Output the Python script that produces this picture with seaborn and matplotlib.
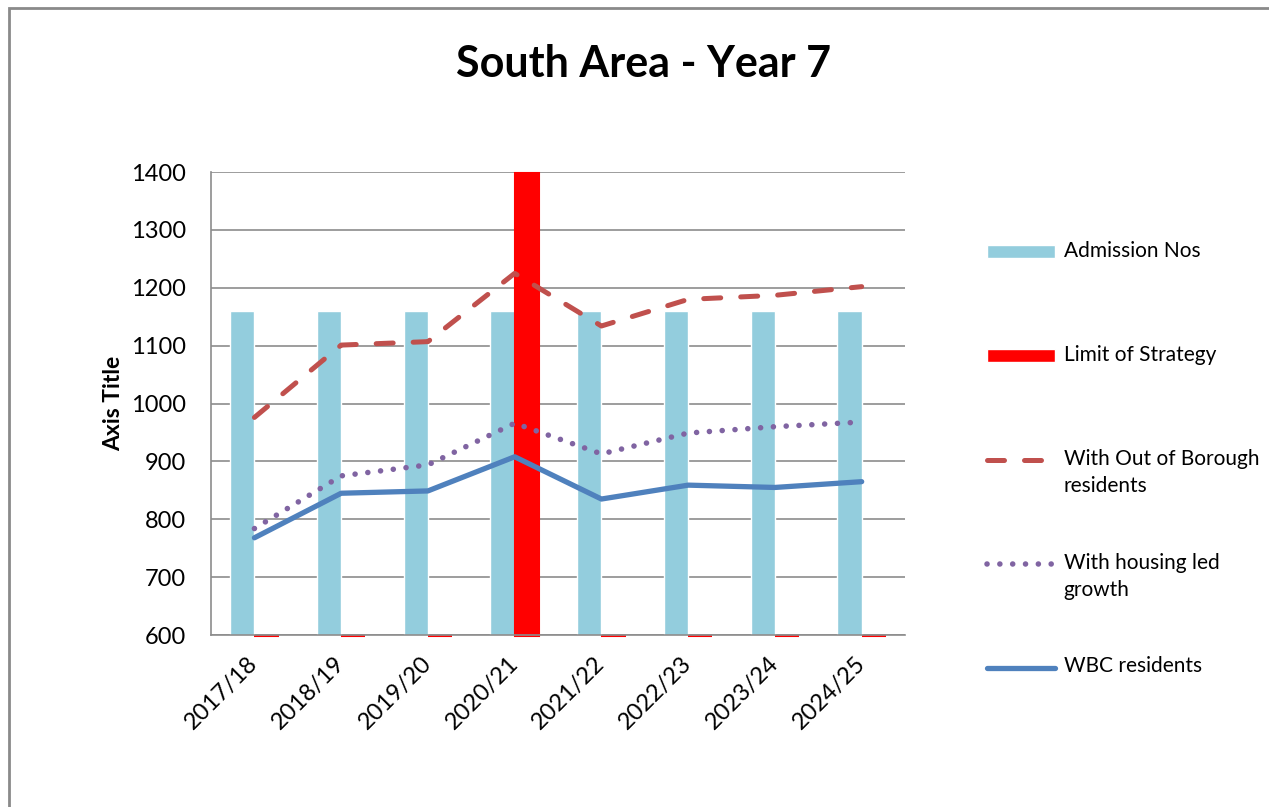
import numpy as np
import pandas as pd
import matplotlib
matplotlib.use("Agg")
import matplotlib.pyplot as plt
from matplotlib.patches import Patch, Rectangle
from matplotlib.lines import Line2D
from matplotlib.legend_handler import HandlerLine2D, HandlerPatch
import seaborn as sns

# chart data
years = ["2017/18", "2018/19", "2019/20", "2020/21", "2021/22", "2022/23", "2023/24", "2024/25"]
admission_nos = [1160, 1160, 1160, 1160, 1160, 1160, 1160, 1160]
limit_of_strategy = [0, 0, 0, 1400, 0, 0, 0, 0]
out_of_borough = [976, 1101, 1107, 1225, 1134, 1180, 1187, 1202]
housing_led = [784, 875, 894, 966, 913, 949, 960, 968]
wbc_residents = [768, 845, 849, 908, 835, 859, 855, 865]

y_ticks = [600, 700, 800, 900, 1000, 1100, 1200, 1300, 1400]

sns.set_style("white")
plt.rcParams["font.family"] = ["Lato", "DejaVu Sans"]
plt.rcParams["text.color"] = "black"
plt.rcParams["axes.labelcolor"] = "black"
plt.rcParams["xtick.color"] = "black"
plt.rcParams["ytick.color"] = "black"

fig = plt.figure(figsize=(12.69, 8.07), dpi=100)
ax = fig.add_axes([0.1663, 0.2131, 0.5469, 0.5737])

grid_col = "#8c8c8c"
x = np.arange(len(years))
ymin, ymax = y_ticks[0], y_ticks[-1]
bar_w = 0.28

# bars (Excel draws them from the axis minimum)
adm = np.clip(np.array(admission_nos) - ymin, 0, None)
lim = np.clip(np.array(limit_of_strategy) - ymin, 0, None)
ax.bar(x - bar_w / 2, adm, width=bar_w, bottom=ymin, color="#93CDDD", zorder=2)
ax.bar(x + bar_w / 2, lim, width=bar_w, bottom=ymin - 1.5, color="#FF0000",
       edgecolor="#FF0000", linewidth=1.5, zorder=2.5, clip_on=False)

lines_df = pd.DataFrame({
    "x": np.tile(x, 3),
    "value": out_of_borough + housing_led + wbc_residents,
    "series": (["With Out of Borough residents"] * len(x)
               + ["With housing led growth"] * len(x)
               + ["WBC residents"] * len(x)),
})

dash_style = (0, (3.4, 4.0))
dot_style = (0, (0.01, 2.3))
styles = {
    "With Out of Borough residents": dict(color="#C0504D", lw=3.6, ls=dash_style),
    "With housing led growth": dict(color="#8064A2", lw=4.0, ls=dot_style),
    "WBC residents": dict(color="#4F81BD", lw=3.8, ls="-"),
}
for name, st in styles.items():
    sub = lines_df[lines_df["series"] == name]
    sns.lineplot(data=sub, x="x", y="value", ax=ax, color=st["color"], linewidth=st["lw"],
                 linestyle=st["ls"], sort=False, zorder=3, legend=False,
                 solid_capstyle="round", dash_capstyle="round")

ax.set_xlim(-0.5, len(years) - 0.5)
ax.set_ylim(ymin, ymax)
ax.set_yticks(y_ticks)
ax.set_xticks(x)
ax.set_xticklabels(years, rotation=45, ha="right", va="center",
                   rotation_mode="anchor", fontsize=17)
ax.tick_params(axis="x", length=0, pad=18)
ax.tick_params(axis="y", length=4, width=1.2, color=grid_col, labelsize=17, pad=14)
ax.yaxis.grid(True, color=grid_col, linewidth=1.2, zorder=0)
ax.set_axisbelow(True)
for side in ["top", "right"]:
    ax.spines[side].set_visible(False)
for side in ["left", "bottom"]:
    ax.spines[side].set_color(grid_col)
    ax.spines[side].set_linewidth(1.2)
ax.set_xlabel("")
ax.set_ylabel("Axis Title", fontsize=16.5, fontweight="bold", labelpad=5)

fig.suptitle("South Area - Year 7", fontsize=31, fontweight="bold", x=0.507, y=0.945)

# legend: every entry is two lines tall, handles sit on the first line (as Excel does)
leg_fs = 15
shift = 9.7  # points


class TopPatch(HandlerPatch):
    def create_artists(self, legend, orig_handle, xdescent, ydescent,
                       width, height, fontsize, trans):
        return super().create_artists(legend, orig_handle, xdescent, ydescent - shift,
                                      width, height, fontsize, trans)


class TopLine(HandlerLine2D):
    def create_artists(self, legend, orig_handle, xdescent, ydescent,
                       width, height, fontsize, trans):
        return super().create_artists(legend, orig_handle, xdescent, ydescent - 2 * shift,
                                      width, height, fontsize, trans)


handles = [
    Patch(facecolor="#93CDDD", label="Admission Nos\n "),
    Patch(facecolor="#FF0000", label="Limit of Strategy\n "),
    Line2D([], [], color="#C0504D", linewidth=3.6, linestyle=dash_style,
           dash_capstyle="round", label="With Out of Borough\nresidents"),
    Line2D([], [], color="#8064A2", linewidth=4.0, linestyle=dot_style,
           dash_capstyle="round", label="With housing led\ngrowth"),
    Line2D([], [], color="#4F81BD", linewidth=3.8, solid_capstyle="round",
           label="WBC residents\n "),
]
leg = fig.legend(handles=handles, loc="upper left", bbox_to_anchor=(0.7775, 0.7014),
                 frameon=False, fontsize=leg_fs, handlelength=3.3, handleheight=0.6,
                 handletextpad=0.4, labelspacing=2.72, borderpad=0, borderaxespad=0,
                 handler_map={Patch: TopPatch(), Line2D: TopLine()})
for t in leg.get_texts():
    t.set_linespacing(1.45)

# outer chart border (left and top edges are visible)
fig.patches.append(Rectangle((9 / 1269, -0.05), 1.2, 1 - 8 / 807 + 0.05,
                             transform=fig.transFigure, fill=False,
                             edgecolor="#8a8a8a", linewidth=2, zorder=0))

fig.savefig("out.png", dpi=100)
